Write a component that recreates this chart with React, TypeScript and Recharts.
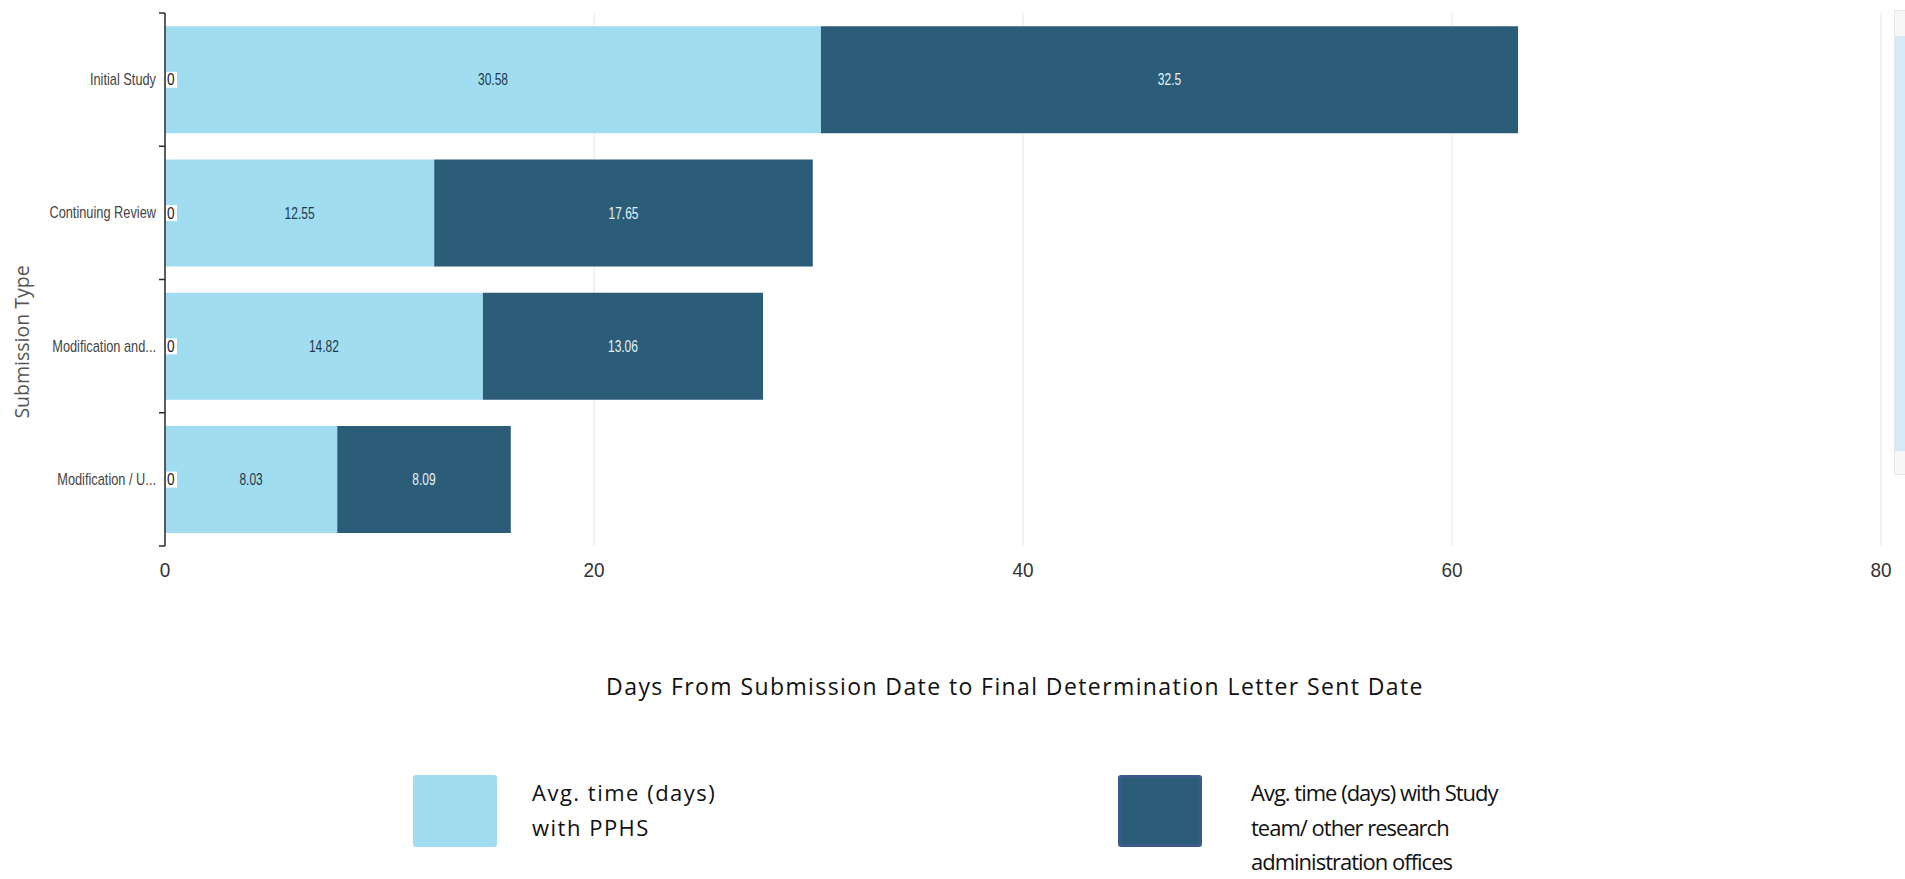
import { BarChart, Bar, XAxis, YAxis, CartesianGrid, LabelList } from 'recharts'

const categories = ['Initial Study', 'Continuing Review', 'Modification and...', 'Modification / U...']
const otherDays = [0, 0, 0, 0]
const pphsDays = [30.58, 12.55, 14.82, 8.03]
const studyDays = [32.5, 17.65, 13.06, 8.09]
const xTicks = [0, 20, 40, 60, 80]
const seriesNames = ['Avg. time (days)\nwith PPHS', 'Avg. time (days) with Study\nteam/ other research\nadministration offices']
const xTitle = 'Days From Submission Date to Final Determination Letter Sent Date'
const yTitle = 'Submission Type'

const data = categories.map((type, i) => ({
  type,
  other: otherDays[i],
  pphs: pphsDays[i],
  study: studyDays[i],
}))

const c = {
  light: '#a1ddf0',
  dark: '#2b5d78',
  darkEdge: '#3b5a8c',
  grid: '#e6e6e6',
  axis: '#2a2a2a',
  tick: '#444',
}
const CHART_FONT = '"Liberation Sans", Arial, sans-serif'
const SANS = '"Open Sans", "Noto Sans", sans-serif'

// plot geometry
const MARGIN = { top: 13, right: 24, left: 0, bottom: 0 }
const CHART_H = 600
const X_AXIS_H = 54
const AXIS_X = 165
const BAND = (CHART_H - MARGIN.top - X_AXIS_H) / categories.length

// the dashboard squeezes its text horizontally
function Squish({ x, y, sx, anchor = 'middle', size, fill, children }: {
  x: number; y: number; sx: number; anchor?: 'start' | 'middle' | 'end'; size: number; fill: string; children: React.ReactNode
}) {
  return (
    <text
      transform={`translate(${x},${y}) scale(${sx},1)`}
      dy="0.35em"
      textAnchor={anchor}
      fontSize={size}
      fontFamily={CHART_FONT}
      fill={fill}
    >
      {children}
    </text>
  )
}

function CategoryTick({ y, payload, index }: { y?: number; payload?: { value: string }; index?: number }) {
  const cy = y ?? 0
  const half = BAND / 2
  return (
    <g>
      <line x1={AXIS_X - 6} x2={AXIS_X} y1={cy - half} y2={cy - half} stroke={c.axis} strokeWidth={1.5} />
      {index === categories.length - 1 && (
        <line x1={AXIS_X - 6} x2={AXIS_X} y1={cy + half} y2={cy + half} stroke={c.axis} strokeWidth={1.5} />
      )}
      <Squish x={AXIS_X - 9} y={cy} sx={0.8} anchor="end" size={16} fill={c.tick}>
        {payload?.value}
      </Squish>
    </g>
  )
}

function NumberTick({ x, y, payload }: { x?: number; y?: number; payload?: { value: number } }) {
  return (
    <Squish x={x ?? 0} y={(y ?? 0) + 16} sx={0.95} size={20} fill="#333">
      {payload?.value}
    </Squish>
  )
}

function ZeroLabel(props: any) {
  const { x, y, height, value } = props
  const cy = y + height / 2
  return (
    <g>
      <rect x={x + 1} y={cy - 8} width={11} height={16} fill="#fff" />
      <Squish x={x + 2} y={cy} sx={0.85} anchor="start" size={16} fill="#222">
        {value}
      </Squish>
    </g>
  )
}

const valueLabel = (fill: string) => (props: any) => {
  const { x, y, width, height, value } = props
  return (
    <Squish x={x + width / 2} y={y + height / 2} sx={0.75} size={16} fill={fill}>
      {value}
    </Squish>
  )
}

function Swatch({ left, color, edge }: { left: number; color: string; edge?: string }) {
  return (
    <div
      style={{
        position: 'absolute',
        left,
        top: 775,
        width: 84,
        height: 72,
        borderRadius: 3,
        background: color,
        boxSizing: 'border-box',
        border: edge ? `3px solid ${edge}` : 'none',
      }}
    />
  )
}

const legendText: React.CSSProperties = {
  position: 'absolute',
  top: 775,
  fontFamily: SANS,
  fontSize: 22,
  lineHeight: '34.7px',
  color: '#111',
  whiteSpace: 'pre-line',
}

export default function App() {
  return (
    <div style={{ position: 'absolute', left: 0, top: 0, width: 1905, height: 879, background: '#fff', overflow: 'hidden' }}>
      <BarChart width={1905} height={CHART_H} layout="vertical" data={data} margin={MARGIN} barCategoryGap="10%">
        <CartesianGrid horizontal={false} stroke={c.grid} />
        <XAxis
          type="number"
          domain={[0, 80]}
          ticks={xTicks}
          axisLine={false}
          tickLine={false}
          height={X_AXIS_H}
          tick={<NumberTick />}
        />
        <YAxis
          type="category"
          dataKey="type"
          width={AXIS_X}
          axisLine={{ stroke: c.axis, strokeWidth: 1.5 }}
          tickLine={false}
          tick={<CategoryTick />}
        />
        <Bar dataKey="pphs" stackId="s" fill={c.light} isAnimationActive={false}>
          <LabelList dataKey="pphs" content={valueLabel('#1e3a4c')} />
          <LabelList dataKey="other" content={ZeroLabel} />
        </Bar>
        <Bar dataKey="study" stackId="s" fill={c.dark} isAnimationActive={false}>
          <LabelList dataKey="study" content={valueLabel('#e2f2fa')} />
        </Bar>
      </BarChart>

      {/* neighbouring panel edge */}
      <div style={{ position: 'absolute', left: 1894, top: 10, width: 11, height: 463, background: '#f7f7f7', border: '1px solid #e8e8e8' }}>
        <div style={{ marginTop: 25, height: 415, background: '#d6ebf7' }} />
      </div>

      <div
        style={{
          position: 'absolute',
          left: 21,
          top: 342,
          transform: 'translate(-50%, -50%) rotate(-90deg)',
          fontFamily: SANS,
          fontSize: 19.5,
          color: '#555',
          whiteSpace: 'nowrap',
        }}
      >
        {yTitle}
      </div>

      <div
        style={{
          position: 'absolute',
          left: 165,
          width: 1700,
          top: 670,
          textAlign: 'center',
          fontFamily: SANS,
          fontSize: 23,
          letterSpacing: 1.4,
          color: '#111',
        }}
      >
        {xTitle}
      </div>

      <Swatch left={413} color={c.light} />
      <div style={{ ...legendText, left: 532, letterSpacing: 1.5 }}>{seriesNames[0]}</div>
      <Swatch left={1118} color={c.dark} edge={c.darkEdge} />
      <div style={{ ...legendText, left: 1251, letterSpacing: -1 }}>{seriesNames[1]}</div>
    </div>
  )
}
